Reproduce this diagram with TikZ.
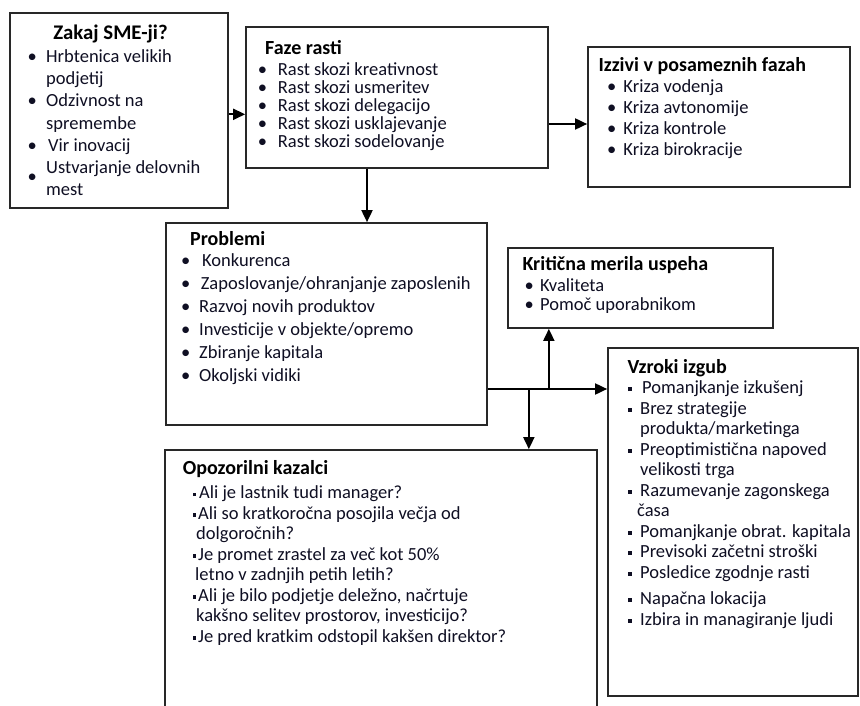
\documentclass[tikz,border=0pt]{standalone}
\usepackage{fontspec}
\setmainfont{Carlito}
\usetikzlibrary{arrows.meta}
\definecolor{txtc}{RGB}{15,15,35}
\definecolor{boxc}{RGB}{40,40,40}
\newcommand\RB[1]{\makebox[#1][c]{\textbullet}}
\newcommand\SB[2]{\makebox[#1][c]{\rule[2.4pt]{#2}{#2}}}
\newcommand\fst{\rule{0pt}{15pt}}
\begin{document}
\begin{tikzpicture}[x=1pt,y=-1pt,
 box/.style={draw=boxc, line width=1.7pt, inner sep=0pt},
 ttl/.style={anchor=base west, inner sep=0pt, font=\fontsize{20}{24}\selectfont\bfseries},
 lst/.style={anchor=north west, inner sep=0pt, align=left, text=txtc},
 arr/.style={draw=black, line width=1.8pt, -{Triangle[length=12pt,width=11pt]}}]
\path[use as bounding box, fill=white] (0,0) rectangle (860,706);
\clip (0,0) rectangle (860,706);

% boxes
\node[box, minimum width=218pt, minimum height=195pt] (zakaj) at (119,110.5) {};
\node[box, minimum width=302pt, minimum height=141pt] (faze) at (397,97.5) {};
\node[box, minimum width=262pt, minimum height=140pt] (izzivi) at (719,117) {};
\node[box, minimum width=321pt, minimum height=202pt] (problemi) at (326.5,324) {};
\node[box, minimum width=265pt, minimum height=80pt] (kriticna) at (640.5,288) {};
\node[box, minimum width=250pt, minimum height=348pt] (vzroki) at (733,522) {};
\node[box, minimum width=432pt, minimum height=290pt] (opozorilni) at (381,595) {};

% connectors
\draw[arr] ([yshift=-3.8pt]zakaj.east) -- ([yshift=-3.8pt]zakaj.east -| faze.west);
\draw[arr] ([yshift=-26.5pt]faze.east) -- ([yshift=-26.5pt]faze.east -| izzivi.west);
\draw[arr] ([xshift=-30pt]faze.south) -- ([xshift=-30pt]faze.south |- problemi.north);
\coordinate (pe) at ([yshift=-65pt]problemi.east);
\coordinate (j1) at ([xshift=41pt]pe);
\coordinate (j2) at ([xshift=61pt]pe);
\draw[arr] (pe) -- (pe -| vzroki.west);
\draw[arr] (j1) -- (j1 |- opozorilni.north);
\draw[arr] (j2) -- (j2 |- kriticna.south);

% Zakaj SME-ji?
\node[ttl, anchor=base, font=\fontsize{20.8}{24}\selectfont\bfseries] (t1) at (110.5,39.3) {Zakaj SME-ji?};
\node[lst, font=\fontsize{18.5}{22.1}\selectfont] (l1) at (18,47.5) {%
\fst\RB{28pt}Hrbtenica velikih\\
\hspace*{28pt}podjetij\\
\RB{28pt}Odzivnost na\\
\hspace*{28pt}spremembe\\
\RB{28pt}\hspace{2pt}Vir inovacij\\
\raisebox{-9.5pt}[0pt][0pt]{\RB{28pt}}Ustvarjanje delovnih\\
\hspace*{28pt}mest};

% Faze rasti
\node[ttl] (t2) at (265,55) {Faze rasti};
\node[lst, font=\fontsize{18.5}{18.2}\selectfont] (l2) at (246.9,60) {%
\fst\RB{30.8pt}Rast skozi kreativnost\\
\RB{30.8pt}Rast skozi usmeritev\\
\RB{30.8pt}Rast skozi delegacijo\\
\RB{30.8pt}Rast skozi usklajevanje\\
\RB{30.8pt}Rast skozi sodelovanje};

% Izzivi
\node[ttl] (t3) at (598.3,71.7) {Izzivi v posameznih fazah};
\node[lst, font=\fontsize{18.5}{21.1}\selectfont] (l3) at (600,77.3) {%
\fst\RB{23.3pt}Kriza vodenja\\
\RB{23.3pt}Kriza avtonomije\\
\RB{23.3pt}Kriza kontrole\\
\RB{23.3pt}Kriza birokracije};

% Problemi
\node[ttl] (t4) at (190,245) {Problemi};
\node[lst, font=\fontsize{18.5}{22.9}\selectfont] (l4) at (172,251.7) {%
\fst\RB{27pt}\hspace{3pt}Konkurenca\\
\RB{27pt}\hspace{1.7pt}Zaposlovanje/ohranjanje zaposlenih\\
\RB{27pt}Razvoj novih produktov\\
\RB{27pt}Investicije v objekte/opremo\\
\RB{27pt}Zbiranje kapitala\\
\RB{27pt}Okoljski vidiki};

% Kriticna merila uspeha
\node[ttl] (t5) at (522.3,270.7) {Kritična merila uspeha};
\node[lst, font=\fontsize{18.5}{18.5}\selectfont] (l5) at (518,276.7) {%
\fst\RB{22pt}Kvaliteta\\
\RB{22pt}Pomoč uporabnikom};

% Vzroki izgub
\node[ttl] (t6) at (627.3,373.3) {Vzroki izgub};
\node[lst, font=\fontsize{18.5}{20.5}\selectfont] (l6) at (620,378.3) {%
\fst\SB{20pt}{4pt}\hspace{2pt}Pomanjkanje izkušenj\\
\SB{20pt}{4pt}Brez strategije\\
\hspace*{20pt}produkta/marketinga\\
\SB{20pt}{4pt}Preoptimistična napoved\\
\hspace*{20pt}velikosti trga\\
\SB{20pt}{4pt}Razumevanje zagonskega\\
\hspace*{17pt}časa\\
\SB{20pt}{4pt}Pomanjkanje obrat. kapitala\\
\SB{20pt}{4pt}Previsoki začetni stroški\\
\SB{20pt}{4pt}Posledice zgodnje rasti\\[6pt]
\SB{20pt}{4pt}Napačna lokacija\\
\SB{20pt}{4pt}Izbira in managiranje ljudi};

% Opozorilni kazalci
\node[ttl] (t7) at (182.7,474.3) {Opozorilni kazalci};
\node[lst, font=\fontsize{18.5}{20.5}\selectfont] (l7) at (190.5,483.3) {%
\fst\SB{7.5pt}{3.5pt}\hspace{1pt}Ali je lastnik tudi manager?\\
\SB{7.5pt}{3.5pt}Ali so kratkoročna posojila večja od\\
\hspace*{5.5pt}dolgoročnih?\\
\SB{7.5pt}{3.5pt}Je promet zrastel za več kot 50\%\\
\hspace*{4.5pt}letno v zadnjih petih letih?\\
\SB{7.5pt}{3.5pt}Ali je bilo podjetje deležno, načrtuje\\
\hspace*{5.5pt}kakšno selitev prostorov, investicijo?\\
\SB{7.5pt}{3.5pt}Je pred kratkim odstopil kakšen direktor?};
\end{tikzpicture}
\end{document}
